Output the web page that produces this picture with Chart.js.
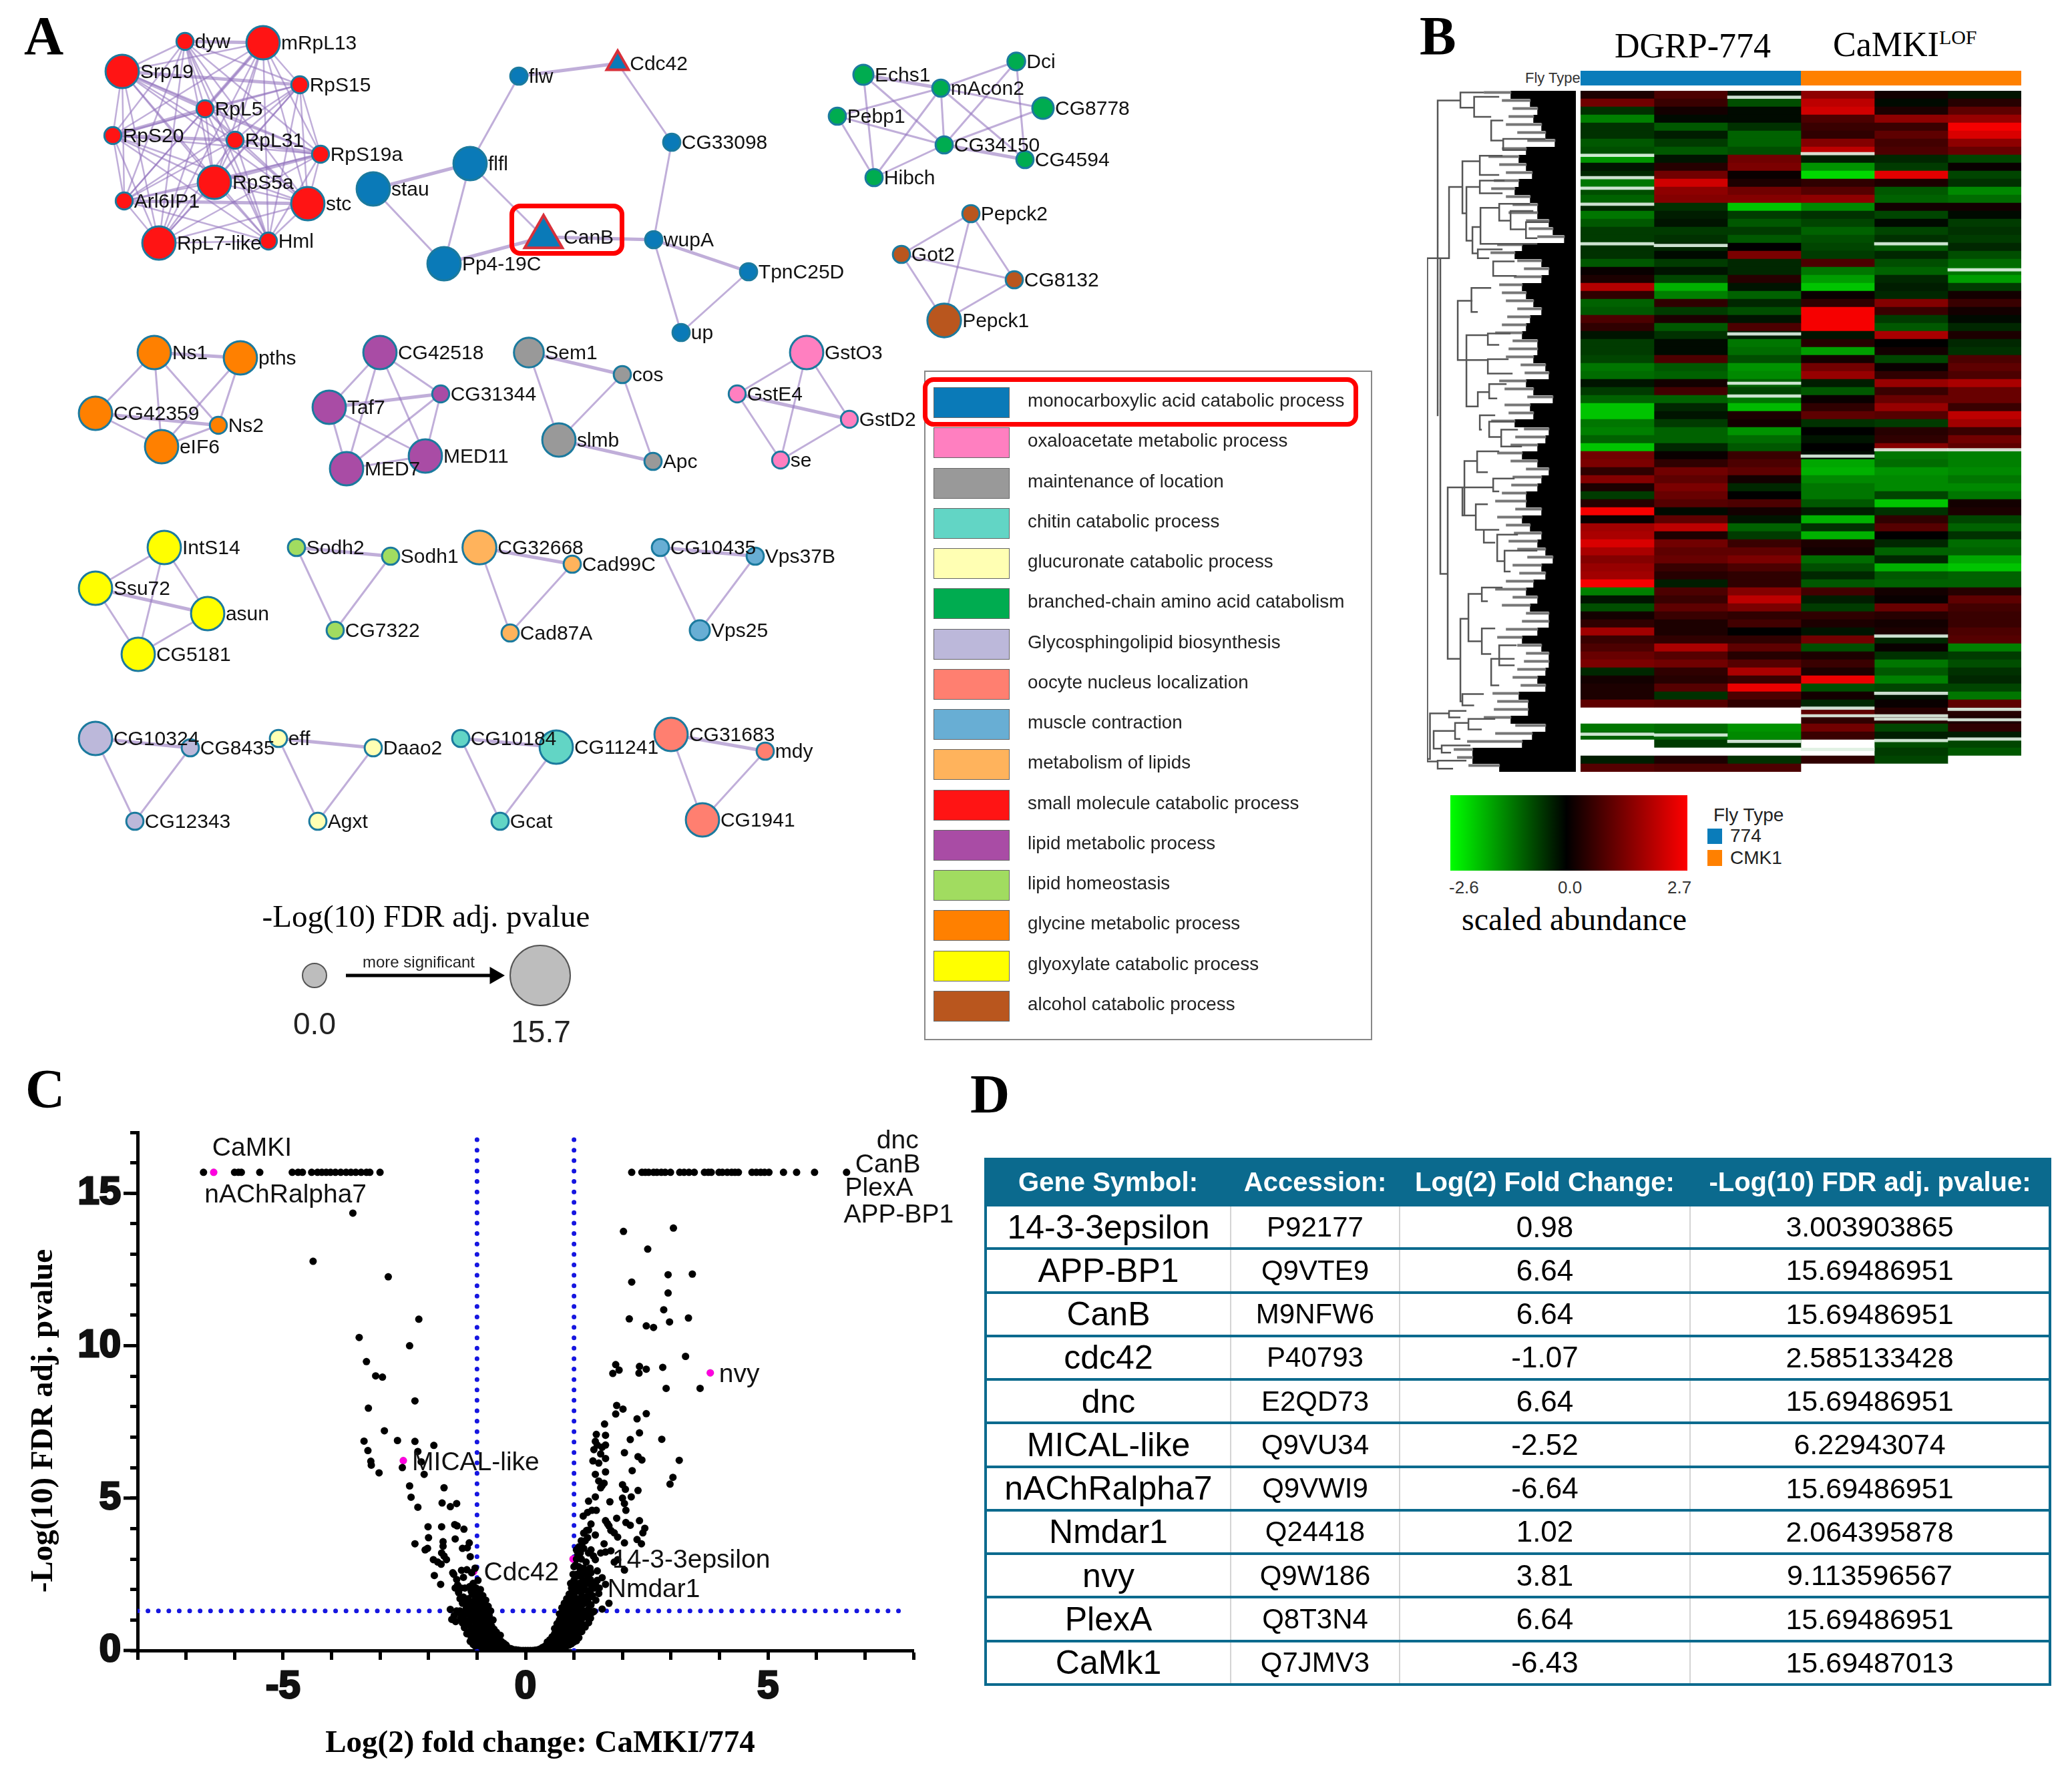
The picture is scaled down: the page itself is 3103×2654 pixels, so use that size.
<!DOCTYPE html>
<html>
<head>
<meta charset="utf-8">
<title>CaMKI proteomics figure</title>
<script src="https://cdn.jsdelivr.net/npm/chart.js@4/dist/chart.umd.js"></script>
<style>
  html, body { margin: 0; padding: 0; background: #fff; }
  #page { position: relative; width: 3103px; height: 2654px; overflow: hidden; font-family: "Liberation Sans", sans-serif; color: #000; }
  #page canvas { position: absolute; }
  .abs { position: absolute; white-space: nowrap; }
  .serif { font-family: "Liberation Serif", serif; }
  .letter { font-family: "Liberation Serif", serif; font-weight: bold; font-size: 82px; line-height: 82px; }
  .narrow { font-family: "Liberation Sans Narrow", "Liberation Sans", sans-serif; }
  #termBox { left: 1384px; top: 555px; width: 667px; height: 999px; border: 2px solid #888; }
  .swatch { position: absolute; left: 1398px; width: 112px; height: 44px; border: 1px solid #666; }
  .term { position: absolute; left: 1539px; font-size: 27.8px; line-height: 46px; color: #222; white-space: nowrap; }
  .redbox { position: absolute; border: 7px solid #f00; border-radius: 16px; box-sizing: border-box; }
  #geneTable { position: absolute; left: 1474px; top: 1734px; width: 1594px; height: 791px; border-collapse: collapse; table-layout: fixed; text-align: center; }
  #geneTable th { background: #0b6a8e; color: #fff; font-size: 40px; height: 65px; padding: 0; white-space: nowrap; border: 4px solid #0b6a8e; }
  #geneTable td { height: 60.4px; padding: 0; border-top: 4px solid #0b6a8e; border-bottom: 4px solid #0b6a8e; border-left: 2px solid #d4d4d4; border-right: 2px solid #d4d4d4; white-space: nowrap; }
  #geneTable td:first-child { font-size: 50px; border-left: 4px solid #0b6a8e; }
  #geneTable td:nth-child(2) { font-size: 42px; }
  #geneTable td:nth-child(3) { font-size: 44px; }
  #geneTable td:nth-child(4) { font-size: 43px; border-right: 4px solid #0b6a8e; }
</style>
</head>
<body>
<div id="page">
  <canvas id="networkChart" width="1760" height="1600" style="left:0;top:0"></canvas>
  <canvas id="volcanoChart" width="1480" height="1014" style="left:0;top:1640px"></canvas>
  <canvas id="treeChart" width="223" height="1020" style="left:2137px;top:136px"></canvas>
  <canvas id="heatChart" width="660" height="1020" style="left:2367px;top:136px"></canvas>

  <div class="abs letter" style="left:36px;top:13px">A</div>
  <div class="abs letter" style="left:2126px;top:13px">B</div>
  <div class="abs letter" style="left:38px;top:1590px">C</div>
  <div class="abs letter" style="left:1453px;top:1598px">D</div>

  <div class="redbox" style="left:763px;top:305px;width:172px;height:78px"></div>

  <div id="termBox" class="abs"></div>
  <div id="termList"></div>
  <div class="redbox" style="left:1382px;top:565px;width:652px;height:74px"></div>

  <div class="abs serif" style="left:2418px;top:39px;font-size:52px">DGRP-774</div>
  <div class="abs serif" style="left:2745px;top:37px;font-size:52px">CaMKI<sup style="font-size:30px;vertical-align:18px;line-height:0">LOF</sup></div>
  <div class="abs narrow" style="left:2284px;top:104px;font-size:22px;color:#333">Fly Type</div>
  <div class="abs" style="left:2367px;top:106px;width:330px;height:22px;background:#0a7cba"></div>
  <div class="abs" style="left:2697px;top:106px;width:330px;height:22px;background:#ff8000"></div>

  <div class="abs" style="left:2172px;top:1191px;width:355px;height:113px;background:linear-gradient(to right,#00ff00 0%,#000 49%,#f00 100%)"></div>
  <div class="abs narrow" style="left:2170px;top:1314px;font-size:26px;color:#333">-2.6</div>
  <div class="abs narrow" style="left:2333px;top:1314px;font-size:26px;color:#333">0.0</div>
  <div class="abs narrow" style="left:2497px;top:1314px;font-size:26px;color:#333">2.7</div>
  <div class="abs serif" style="left:2189px;top:1349px;font-size:48px">scaled abundance</div>
  <div class="abs" style="left:2566px;top:1205px;font-size:28px;color:#222">Fly Type</div>
  <div class="abs" style="left:2557px;top:1241px;width:22px;height:23px;background:#0a7cba"></div>
  <div class="abs" style="left:2591px;top:1236px;font-size:28px;color:#222">774</div>
  <div class="abs" style="left:2557px;top:1273px;width:22px;height:24px;background:#ff8000"></div>
  <div class="abs" style="left:2591px;top:1269px;font-size:28px;color:#222">CMK1</div>

  <table id="geneTable">
    <colgroup><col style="width:367px"><col style="width:253px"><col style="width:435px"><col style="width:539px"></colgroup>
    <thead><tr id="tableHead"></tr></thead>
    <tbody id="tableBody"></tbody>
  </table>
</div>

<script>
// Panel A: enrichment network, layout
const termNames = ["monocarboxylic acid catabolic process", "oxaloacetate metabolic process", "maintenance of location", "chitin catabolic process", "glucuronate catabolic process", "branched-chain amino acid catabolism", "Glycosphingolipid biosynthesis", "oocyte nucleus localization", "muscle contraction", "metabolism of lipids", "small molecule catabolic process", "lipid metabolic process", "lipid homeostasis", "glycine metabolic process", "glyoxylate catabolic process", "alcohol catabolic process"];
const termColors = ["#0a7ab8", "#ff7fc0", "#999999", "#62d5c5", "#ffffb3", "#00ac50", "#bcb8da", "#ff7f70", "#68aed4", "#ffb35c", "#ff1414", "#a94ca5", "#a1dc60", "#ff8000", "#ffff00", "#b9561e"];

const nodeNames = ["dyw", "mRpL13", "Srp19", "RpS15", "RpL5", "RpS20", "RpL31", "RpS19a", "RpS5a", "Arl6IP1", "stc", "RpL7-like", "Hml",
  "flw", "Cdc42", "CG33098", "flfl", "stau", "CanB", "wupA", "Pp4-19C", "TpnC25D", "up",
  "Echs1", "mAcon2", "Dci", "CG8778", "Pebp1", "CG34150", "CG4594", "Hibch",
  "Pepck2", "Got2", "CG8132", "Pepck1",
  "Ns1", "pths", "CG42359", "eIF6", "Ns2",
  "CG42518", "Taf7", "CG31344", "MED11", "MED7",
  "Sem1", "cos", "slmb", "Apc",
  "GstO3", "GstE4", "GstD2", "se",
  "IntS14", "Ssu72", "asun", "CG5181",
  "Sodh2", "Sodh1", "CG7322",
  "CG32668", "Cad99C", "Cad87A",
  "CG10435", "Vps37B", "Vps25",
  "CG10324", "CG8435", "CG12343",
  "eff", "Daao2", "Agxt",
  "CG10184", "CG11241", "Gcat",
  "CG31683", "mdy", "CG1941"];
const nodeX = [277, 394, 183, 449, 307, 169, 352, 480, 321, 186, 461, 238, 402,
  777, 925, 1006, 704, 559, 814, 979, 665, 1121, 1020,
  1293, 1409, 1522, 1562, 1254, 1414, 1535, 1309,
  1454, 1350, 1519, 1414,
  231, 360, 143, 242, 327,
  569, 493, 660, 637, 519,
  792, 932, 837, 978,
  1208, 1104, 1272, 1169,
  246, 143, 311, 207,
  444, 585, 502,
  718, 857, 764,
  989, 1131, 1048,
  143, 285, 202,
  417, 559, 476,
  690, 833, 749,
  1005, 1146, 1052];
const nodeY = [62, 64, 107, 127, 163, 203, 210, 231, 273, 301, 305, 364, 361,
  114, 95, 213, 245, 283, 355, 359, 395, 407, 498,
  112, 132, 92, 162, 174, 217, 239, 266,
  320, 381, 419, 480,
  528, 536, 619, 669, 637,
  528, 610, 590, 683, 702,
  528, 561, 659, 691,
  528, 590, 628, 689,
  820, 881, 919, 980,
  820, 833, 944,
  820, 845, 948,
  820, 833, 944,
  1106, 1120, 1230,
  1106, 1120, 1230,
  1106, 1119, 1230,
  1100, 1125, 1228];
const nodeSig = [0.8, 15, 15, 0.8, 0.8, 0.8, 0.8, 0.8, 15, 0.8, 15, 15, 0.8,
  1, 8, 1, 15, 15, 24, 1, 15, 1, 1,
  3.5, 1, 1.5, 4.7, 1, 1, 1, 1,
  1, 1, 1, 15.3,
  15, 15, 15, 15, 0.8,
  15, 15, 0.8, 15, 15,
  12, 1, 15, 1,
  15, 0.8, 0.8, 0.8,
  15, 15, 15, 15,
  1, 1, 1,
  15.5, 1, 1,
  1, 1, 3.5,
  15, 1, 1,
  1, 1, 1,
  1, 15, 1,
  15, 1, 15];
const nodeTerm = [10, 10, 10, 10, 10, 10, 10, 10, 10, 10, 10, 10, 10,
  0, 0, 0, 0, 0, 0, 0, 0, 0, 0,
  5, 5, 5, 5, 5, 5, 5, 5,
  15, 15, 15, 15,
  13, 13, 13, 13, 13,
  11, 11, 11, 11, 11,
  2, 2, 2, 2,
  1, 1, 1, 1,
  14, 14, 14, 14,
  12, 12, 12,
  9, 9, 9,
  8, 8, 8,
  6, 6, 6,
  4, 4, 4,
  3, 3, 3,
  7, 7, 7];
const triangleNodes = ["Cdc42", "CanB"];

const ribosomeCluster = nodeNames.slice(0, 13);
const plainEdges = [["flw", "flfl"], ["Cdc42", "CG33098"], ["CG33098", "wupA"], ["flfl", "Pp4-19C"], ["flfl", "CanB"], ["stau", "Pp4-19C"], ["wupA", "up"], ["TpnC25D", "up"],
  ["Echs1", "CG34150"], ["Echs1", "Hibch"], ["Pebp1", "mAcon2"], ["Pebp1", "CG34150"], ["Pebp1", "Hibch"], ["mAcon2", "Dci"], ["mAcon2", "CG8778"], ["mAcon2", "CG34150"], ["mAcon2", "CG4594"], ["mAcon2", "Hibch"], ["Dci", "CG34150"], ["Dci", "CG4594"], ["CG8778", "CG34150"], ["CG34150", "Hibch"],
  ["Pepck2", "Got2"], ["Pepck2", "Pepck1"], ["Pepck2", "CG8132"], ["Got2", "CG8132"], ["Got2", "Pepck1"], ["CG8132", "Pepck1"],
  ["Ns1", "CG42359"], ["Ns1", "Ns2"], ["Ns1", "eIF6"], ["pths", "eIF6"], ["pths", "Ns2"], ["CG42359", "eIF6"], ["eIF6", "Ns2"],
  ["CG42518", "Taf7"], ["CG42518", "CG31344"], ["CG42518", "MED11"], ["CG42518", "MED7"], ["Taf7", "MED11"], ["Taf7", "MED7"], ["CG31344", "MED11"], ["CG31344", "MED7"], ["MED11", "MED7"],
  ["Sem1", "slmb"], ["cos", "slmb"], ["cos", "Apc"],
  ["GstO3", "GstE4"], ["GstO3", "GstD2"], ["GstO3", "se"], ["GstE4", "se"], ["GstD2", "se"],
  ["IntS14", "Ssu72"], ["IntS14", "asun"], ["IntS14", "CG5181"], ["Ssu72", "CG5181"], ["asun", "CG5181"],
  ["Sodh2", "CG7322"], ["Sodh1", "CG7322"], ["CG32668", "Cad87A"], ["Cad99C", "Cad87A"], ["CG10435", "Vps25"], ["Vps37B", "Vps25"],
  ["CG10324", "CG12343"], ["CG8435", "CG12343"], ["eff", "Agxt"], ["Daao2", "Agxt"], ["CG10184", "Gcat"], ["CG11241", "Gcat"], ["CG31683", "CG1941"], ["mdy", "CG1941"]];
const heavyEdges = [["flw", "Cdc42"], ["stau", "flfl"], ["Pp4-19C", "CanB"], ["CanB", "wupA"], ["wupA", "TpnC25D"], ["Echs1", "mAcon2"], ["CG34150", "CG4594"], ["Ns1", "pths"], ["CG42359", "Ns2"], ["Taf7", "CG31344"], ["Sem1", "cos"], ["slmb", "Apc"], ["GstE4", "GstD2"], ["Ssu72", "asun"], ["Sodh2", "Sodh1"], ["CG32668", "Cad99C"], ["CG10435", "Vps37B"], ["CG10324", "CG8435"], ["eff", "Daao2"], ["CG10184", "CG11241"], ["CG31683", "mdy"],
  ["RpL5", "RpS20"], ["Srp19", "RpL5"], ["RpS5a", "RpS19a"], ["dyw", "mRpL13"], ["Srp19", "RpS15"], ["RpL31", "RpS19a"], ["RpS20", "RpL31"], ["Arl6IP1", "stc"], ["mRpL13", "RpL5"]];

const sizeLegendX = [471, 809];
const sizeLegendY = [1461, 1461];
const sizeLegendSig = [0, 15.7];
const arrowX = [518, 741];
const arrowY = [1461, 1461];

// Panel B: heatmap, one value per row band (null = no abundance, drawn white)
const rowCount = 85;
const columnNames = ["774-1", "774-2", "774-3", "CMK1-1", "CMK1-2", "CMK1-3"];
const col1 = [0.3, 1.2, -0.5, -1.3, -0.5, -0.5, -0.9, -0.8, -1.5, -0.2, -0.4, -1.2, -0.8, -1.0, -0.4, -1.2, -0.9, -0.6, -0.6, -0.5, -0.5, -0.9, 0.1, 0.3, 1.9, 0.5, -1.0, -0.9, 0.8,
  0.5, -0.2, -0.6, -0.6, -0.7, -1.2, -1.1, -0.2, -0.6, -1.0, -2.0, -2.0, -1.2, -1.3, -1.0, -2.0, 1.2, 1.3, 0.5, 1.4, 0.3, -0.6, 0.4, 2.6, 0.1, 1.7, 1.8, 2.3,
  1.8, 1.4, 1.6, 1.7, 2.6, -1.3, -0.2, -0.8, 0.2, 0.5, 1.7, 0.6, 0.8, 1.1, 1.3, -0.4, 0.2, 0.3, 0.3, 1.0, null, null, -1.2, -1.0, null, null, -0.3, 0.9];
const col2 = [0.8, 0.6, 0.2, -0.1, -0.9, -0.3, -0.6, -0.9, -0.2, 0.4, 1.2, 2.2, 1.5, 1.4, -0.5, -0.3, -0.2, -0.6, -0.5, -0.4, -0.1, -0.6, -0.2, -0.7, -1.8, -1.3, 0.5, -0.6, 0.3,
  -0.9, -0.5, -0.1, -0.1, 0.8, -0.9, -1.0, 0.2, 0.7, -1.0, -0.4, -0.2, -0.6, -1.0, -1.0, -0.4, 0.1, 0.5, 1.2, 1.0, 1.3, 1.1, 0.9, -0.1, 1.0, 2.0, 0.3, 1.2,
  1.0, 1.1, 0.6, 0.4, -0.3, 0.8, 0.6, 1.0, 0.6, 0.3, 0.3, 0.5, 1.8, 0.9, 1.2, 0.5, 0.4, 0.9, -0.5, 0.9, null, null, -1.1, -1.0, -0.6, null, 0.3, 0.8];
const col3 = [-0.2, -0.8, -0.1, -0.1, -0.5, -1.0, -1.0, -0.8, 1.2, 1.3, 0.1, 0.3, 1.2, 1.4, -2.0, -0.6, -0.9, -0.6, -0.9, 0.0, 1.3, -0.4, -0.4, 0.4, -0.2, -1.0, -0.4, -0.8, -0.2,
  0.8, -0.3, -1.2, -1.1, -0.8, -1.5, -1.4, -1.0, -0.7, -1.2, -1.9, 0.3, 0.2, -1.5, -1.1, -0.9, 0.6, 0.8, 1.0, 0.2, -0.4, 0.0, 0.8, 0.2, -0.2, -1.0, -0.6, 0.6,
  1.0, 1.3, 0.8, 0.5, 0.5, 1.4, 2.0, 1.3, 0.5, 0.7, 0.0, 0.5, 1.0, 0.4, 0.9, 1.8, 0.6, 2.5, 0.8, 0.5, null, null, -1.5, -1.4, -0.6, null, -0.5, 0.8];
const col4 = [1.5, 2.0, 2.2, 0.8, 0.6, 0.5, 1.4, 2.0, -0.3, -1.5, -2.2, 0.5, 0.9, 1.5, -1.4, -0.5, -0.7, -1.0, -0.8, -0.7, -0.6, 0.8, -1.2, -1.6, -2.0, 0.1, 0.5, 2.6, 2.6,
  2.6, -0.2, 0.4, -1.6, 0.2, 1.2, 1.6, -0.3, -0.9, 0.1, 0.5, 1.0, -0.5, 0.0, -0.2, 0.0, -0.1, -1.7, -1.8, -1.4, -1.2, -1.2, -0.9, -0.3, -1.8, -0.5, -1.8, 0.3,
  0.2, -1.1, -0.8, -0.4, -0.9, 0.7, -0.3, -0.6, 0.5, 0.3, -0.2, 1.2, -0.8, 0.3, 0.6, 0.3, 2.5, -0.8, 0.2, -0.4, 1.0, 0.5, 1.2, 0.6, null, null, 0.5, null];
const col5 = [0.2, -0.1, 0.3, 1.5, 0.6, 1.0, 0.7, 0.8, -0.4, -0.6, 2.4, 0.3, -0.9, -1.0, 0.2, -0.7, -0.1, -0.7, -0.5, -0.9, -0.4, -0.8, -1.0, -0.4, -0.3, -0.4, 1.4, 0.6, -0.6,
  -0.9, 1.8, 0.0, 0.2, -0.7, 0.1, 0.5, 1.6, 0.6, 1.1, 1.6, 0.9, -0.6, 0.4, 0.5, 1.4, -1.2, -1.1, -1.5, -1.4, -1.4, -0.7, -2.0, -0.5, 0.5, 0.9, 0.0, -0.4,
  -1.0, -0.4, -1.8, -0.9, -1.0, 0.2, 0.1, 1.1, 0.4, 0.2, 0.3, -0.4, 0.1, -0.5, -1.2, -0.9, -1.3, -0.7, -0.2, 0.1, 0.4, 0.4, -0.7, -0.3, -0.8, -0.6, -0.7, null];
const col6 = [-0.2, 0.4, 1.0, 1.6, 2.6, 2.3, 1.5, 1.1, -0.7, 0.1, -0.7, -0.5, -1.4, -1.1, 0.2, -0.1, -0.6, -0.5, -0.6, -0.4, -0.8, -1.1, -1.2, -1.6, -0.6, 0.2, 0.6, 0.2, -0.1,
  -0.4, 0.3, -0.4, -0.5, 0.8, 1.0, 0.8, 1.8, 1.1, 1.1, 0.6, 2.0, 1.7, 0.6, 1.2, 1.0, -1.3, -1.3, -1.4, -1.2, -1.4, -1.2, 0.2, 0.3, -0.7, -1.0, -0.5, -1.1,
  -1.0, -1.7, -2.0, -1.0, -1.0, 0.4, 1.0, 0.7, 0.6, 0.6, 0.8, 0.9, -1.3, -0.6, -0.8, -0.5, -0.4, -0.7, -1.2, 1.0, 0.4, 0.3, 0.5, -0.3, -0.7, -0.9, null, null];
const columns = [col1, col2, col3, col4, col5, col6];
// thin pale lines: rows that are missing for one replicate
const missingCol = [0, 0, 0, 0, 0, 1, 2, 2, 2, 2, 3, 3, 3, 3, 4, 4, 4, 4, 4, 4, 5, 5, 5, 5, 0, 1, 2, 3, 4, 5];
const missingRow = [8.05, 10.85, 12.15, 14.15, 19.1, 19.3, 0.8, 30.35, 36.5, 38.1, 7.85, 45.6, 77.05, 78.0, 19.1, 44.8, 68.05, 75.2, 78.0, 78.4, 22.35, 44.8, 77.2, 78.5, 80.3, 80.4, 81.2, 82.2, 81.1, 80.9];

const fanEdge = [125, 154, 165, 159, 171, 177, 191, 148, 137, 148, 157, 137, 131, 154, 165, 165, 182, 188, 205, 142, 131, 171, 182, 171, 142, 148, 159, 171, 154,
  148, 142, 165, 165, 159, 177, 182, 148, 159, 188, 154, 159, 131, 182, 177, 165, 142, 165, 182, 171, 165, 148, 148, 171, 142, 154, 171, 165,
  177, 188, 171, 177, 159, 148, 165, 154, 182, 182, 165, 142, 171, 182, 182, 177, 165, 177, 137, 151, 151, 125, 177, 157, 142, 68, 68, 108];
// grey twigs reaching left from the fan, one at the top of each row
const fanTwig = [85, 112, 128, 122, 118, 135, 150, 112, 92, 108, 118, 100, 96, 118, 128, 122, 148, 152, 165, 105, 95, 135, 145, 130, 108, 112, 118, 135, 120,
  112, 102, 128, 122, 118, 140, 146, 108, 116, 150, 116, 122, 96, 145, 132, 125, 105, 125, 148, 128, 126, 112, 102, 132, 105, 118, 130, 122,
  135, 150, 128, 138, 118, 102, 128, 112, 148, 142, 118, 105, 135, 148, 145, 135, 128, 140, 98, 105, 100, 85, 132, 102, 60, 40, 45, 62];
// x of the vertical, first row, last row, x reached by the top and bottom arms
const treeClades = [
  [0.5, 20.9, 83.7, 19, 16], [16, 1.2, 40.6, 50, 16], [20, 20.9, 60.3, 33, 30], [33, 12, 20.9, 53, 19], [53, 8.8, 15.3, 79, 59],
  [59, 12, 18.7, 79, 68], [68, 17, 20.3, 80, 76], [80, 14.6, 19.1, 108, 165], [50, 0.2, 2.1, 85, 70.5], [70.5, 0.75, 3.25, 108, 96],
  [96, 3.7, 6.2, 114, 114], [114, 6, 7.4, 177, 148], [79, 8.1, 10.5, 113, 108], [79, 11.2, 12.8, 116, 113], [108, 14.1, 16.2, 154, 125],
  [125, 15, 17.3, 159, 148], [148, 16.4, 18.4, 182, 165], [76, 19.8, 20.9, 113, 93], [99, 21.3, 23.1, 131, 134], [66.5, 24.6, 27.6, 96, 76],
  [46, 26.2, 33.6, 68, 91], [59, 30.5, 39.4, 91, 76], [91, 30.3, 31.7, 125, 108], [91, 33.5, 35.3, 122, 128], [76, 37.6, 39.4, 93, 59],
  [93, 36.6, 38.4, 119, 105], [79, 40.5, 42.3, 102, 82], [93, 41.3, 43.2, 131, 111], [111, 42.3, 44.4, 136, 142], [56, 46.2, 53, 75, 73],
  [75, 45, 47.6, 108, 91], [31, 49.5, 70.9, 53, 50], [53, 49.5, 53, 99, 56], [73, 51.6, 54.8, 91, 85], [99, 48.4, 50, 131, 108],
  [85, 54.8, 56.4, 108, 102], [105, 55.4, 58.7, 136, 116], [116, 57.4, 60, 165, 125], [50, 65.9, 76.2, 62, 53], [62, 62.8, 68.7, 82, 82],
  [82, 62, 63.7, 113, 91], [82, 67.1, 70.3, 102, 96], [96, 70.9, 74.2, 131, 108], [108, 69.2, 71.7, 134, 131], [53, 75.3, 76.7, 85, 70.5],
  [4.5, 77.7, 83.4, 33, 1.6], [33, 77.4, 78.2, 59, 50], [10, 79.9, 82.1, 42, 22], [42, 78.9, 80.9, 62, 50], [62, 78.4, 79.7, 102, 82],
  [22, 81.7, 82.6, 65, 36], [16, 83.6, 84.6, 59, 39]
];

// Panel C: volcano plot
const saturatedY = 15.69;
const saturatedLeftX = [-6.64, -6.0, -5.92, -5.86, -5.48, -4.81, -4.69, -4.6, -4.41, -4.29, -4.2, -4.11, -4.02, -3.92, -3.81, -3.7, -3.6, -3.5, -3.39, -3.28, -3.21, -3.0];
const saturatedRightX = [2.19, 2.4, 2.47, 2.54, 2.64, 2.71, 2.8, 2.88, 2.99, 3.18, 3.27, 3.37, 3.48, 3.69, 3.77, 3.83, 3.99, 4.06, 4.16, 4.25, 4.32, 4.39, 4.67, 4.76, 4.85, 4.93, 5.02, 5.32, 5.59, 5.96, 6.62];
const downPoints = [[-3.56, 14.35], [-4.38, 12.77], [-2.83, 12.26], [-2.2, 10.87], [-3.43, 10.27], [-2.39, 10.0], [-3.28, 9.48], [-3.09, 9.01], [-2.95, 8.97], [-2.28, 8.19], [-3.24, 7.95], [-2.91, 7.21], [-3.33, 6.87], [-2.64, 6.89], [-2.28, 6.86], [-1.89, 6.73], [-3.25, 6.56], [-2.22, 6.53], [-3.19, 6.21], [-3.18, 6.08], [-2.54, 6.0], [-2.15, 6.19], [-3.02, 5.83], [-2.09, 5.78], [-2.39, 5.4], [-1.68, 5.34], [-2.36, 5.03], [-1.72, 4.84], [-1.55, 4.72], [-1.42, 4.82], [-2.22, 4.7], [-2.01, 4.06], [-1.73, 4.06], [-1.46, 4.13], [-1.41, 4.09], [-1.27, 3.98], [-2.0, 3.7], [-1.7, 3.57], [-1.45, 3.66], [-2.28, 3.5], [-1.16, 3.53], [-1.7, 3.42], [-2.02, 3.35], [-2.07, 3.3], [-1.3, 3.35], [-1.2, 3.37], [-1.73, 3.2], [-1.68, 3.1], [-1.9, 2.98], [-1.81, 2.9], [-1.74, 2.83], [-1.63, 2.98], [-1.14, 3.08], [-1.88, 2.46], [-1.75, 2.17], [-1.48, 2.5], [-1.42, 2.33], [-1.32, 2.63], [-1.21, 2.65], [-1.11, 2.55], [-1.04, 2.7],
  [-1.5, 2.55], [-1.45, 2.05], [-1.4, 2.15], [-1.38, 1.9], [-1.35, 1.7], [-1.33, 2.05], [-1.28, 2.4], [-1.25, 2.05], [-1.42, 1.3], [-1.55, 1.35], [-1.52, 1.02], [-1.47, 1.15], [-1.44, 0.95], [-1.38, 1.25], [-1.35, 1.3], [-1.3, 1.55], [-1.28, 1.75], [-1.22, 1.4], [-1.2, 0.9], [-1.2, 1.2], [-1.18, 1.7], [-1.18, 0.6], [-1.15, 2.1], [-1.15, 1.45], [-1.15, 1.0], [-1.12, 0.45], [-1.12, 0.75], [-1.1, 1.25], [-1.1, 1.6], [-1.1, 1.85], [-1.08, 2.2], [-1.05, 0.3], [-1.05, 0.6], [-1.05, 0.95], [-1.05, 1.4], [-1.03, 1.7], [-1.02, 2.05], [-1.0, 0.2], [-1.0, 0.5], [-1.0, 0.8], [-1.0, 1.15], [-1.0, 1.5], [-1.0, 1.85], [-0.98, 2.3], [-0.95, 0.15], [-0.95, 0.4], [-0.95, 0.7], [-0.95, 1.0], [-0.95, 1.3], [-0.95, 1.65], [-0.93, 2.0], [-0.9, 0.12], [-0.9, 0.35], [-0.9, 0.6], [-0.9, 0.9], [-0.9, 1.2], [-0.9, 1.5], [-0.88, 1.8], [-0.85, 0.1], [-0.85, 0.3], [-0.85, 0.55], [-0.85, 0.85], [-0.85, 1.1], [-0.85, 1.4], [-0.82, 1.65], [-0.8, 0.08], [-0.8, 0.25], [-0.8, 0.5], [-0.8, 0.75], [-0.8, 1.0], [-0.8, 1.25], [-0.77, 1.45], [-0.75, 0.05], [-0.75, 0.2], [-0.75, 0.42], [-0.75, 0.65], [-0.75, 0.9], [-0.75, 1.15], [-0.72, 1.3], [-0.7, 0.04], [-0.7, 0.17], [-0.7, 0.35], [-0.7, 0.55], [-0.7, 0.8], [-0.67, 1.0], [-0.65, 0.03], [-0.65, 0.14], [-0.65, 0.3], [-0.65, 0.5], [-0.65, 0.7], [-0.6, 0.02], [-0.6, 0.12], [-0.6, 0.25], [-0.6, 0.4], [-0.6, 0.6], [-0.55, 0.02], [-0.55, 0.1], [-0.55, 0.2], [-0.55, 0.35], [-0.52, 0.5], [-0.5, 0.01], [-0.5, 0.08], [-0.5, 0.17], [-0.5, 0.3], [-0.45, 0.01], [-0.45, 0.06], [-0.45, 0.13], [-0.45, 0.24], [-0.4, 0.01], [-0.4, 0.05], [-0.4, 0.1], [-0.4, 0.18], [-0.35, 0.01], [-0.35, 0.04], [-0.35, 0.08], [-0.3, 0.01], [-0.3, 0.03], [-0.3, 0.06], [-0.25, 0.01], [-0.25, 0.03], [-0.2, 0.0], [-0.2, 0.02], [-0.15, 0.0], [-0.15, 0.01], [-0.1, 0.0], [-0.05, 0.0], [0.0, 0.0], [0.05, 0.0], [0.1, 0.0],
  [-1.34, 1.05], [-1.3, 0.9], [-1.28, 1.15], [-1.26, 0.75], [-1.25, 1.0], [-1.24, 1.3], [-1.23, 1.6], [-1.21, 0.55], [-1.17, 0.85], [-1.16, 1.3], [-1.16, 1.6], [-1.14, 0.3], [-1.13, 1.15], [-1.12, 1.95], [-1.1, 0.55], [-1.09, 1.05], [-1.08, 0.2], [-1.07, 1.55], [-1.07, 1.9], [-1.04, 0.15], [-1.03, 0.45], [-1.03, 0.8], [-1.03, 1.2], [-0.98, 0.3], [-0.98, 0.65], [-0.97, 0.88], [-0.97, 1.18], [-0.97, 1.45], [-0.96, 1.8], [-0.92, 0.2], [-0.92, 0.5], [-0.92, 0.78], [-0.92, 1.05], [-0.92, 1.4], [-0.92, 1.7], [-0.87, 0.2], [-0.87, 0.45], [-0.87, 0.7], [-0.87, 1.0], [-0.87, 1.27], [-0.87, 1.55], [-0.83, 0.18], [-0.83, 0.4], [-0.83, 0.65], [-0.83, 0.95], [-0.83, 1.2], [-0.83, 1.5], [-0.78, 0.15], [-0.78, 0.36], [-0.78, 0.6], [-0.78, 0.85], [-0.78, 1.1], [-0.73, 0.12], [-0.73, 0.3], [-0.73, 0.5], [-0.73, 0.75], [-0.73, 1.0], [-0.68, 0.1], [-0.68, 0.25], [-0.68, 0.45], [-0.68, 0.65], [-0.62, 0.08], [-0.62, 0.2], [-0.62, 0.35], [-0.62, 0.5], [-0.57, 0.06], [-0.57, 0.15], [-0.57, 0.28], [-0.57, 0.42]];
const upPoints = [[3.05, 13.86], [2.02, 13.75], [2.52, 13.17], [3.44, 12.35], [2.94, 12.33], [2.19, 12.09], [2.94, 11.73], [2.85, 11.18], [2.14, 10.88], [3.36, 10.91], [2.97, 10.78], [2.49, 10.65], [2.64, 10.6], [3.3, 9.65], [1.86, 9.38], [1.93, 9.2], [1.8, 9.09], [2.35, 9.32], [2.49, 9.23], [2.34, 9.1], [2.83, 9.29], [2.9, 8.6], [3.6, 8.6], [1.88, 8.04], [2.01, 7.92], [1.86, 7.76], [2.49, 7.77], [2.3, 7.6], [1.63, 7.43], [2.81, 6.93], [2.35, 7.14], [2.16, 6.92], [2.04, 6.49], [2.32, 6.36], [2.4, 6.25], [3.17, 6.24], [2.2, 5.9], [3.04, 5.68], [2.98, 5.46],
  [1.46, 7.09], [1.65, 7.06], [1.44, 6.86], [1.41, 6.59], [1.48, 6.74], [1.58, 6.67], [1.65, 6.74], [1.55, 6.45], [1.39, 6.22], [1.51, 6.15], [1.65, 6.3], [1.44, 5.78], [1.51, 5.56], [1.65, 5.86], [1.55, 5.34], [1.62, 5.49], [1.58, 5.41], [1.74, 4.88], [1.44, 5.04], [1.3, 4.9], [1.37, 4.6], [1.46, 4.6], [1.19, 4.41], [1.28, 4.53], [2.0, 5.44], [2.06, 5.29], [2.32, 5.25], [2.18, 5.04], [2.0, 5.0], [2.04, 4.82], [2.07, 4.6], [1.88, 4.34], [1.65, 4.26], [1.69, 4.16], [1.72, 4.09], [2.07, 4.2], [2.16, 4.11], [2.35, 4.26], [2.46, 4.01], [2.42, 3.86], [2.3, 3.64], [2.39, 3.5], [2.04, 3.53], [1.83, 3.86], [1.9, 3.72], [1.76, 3.94], [1.26, 3.94], [1.44, 3.79], [1.62, 3.5], [1.44, 2.98], [1.55, 3.2], [1.65, 3.23], [1.76, 3.27], [1.83, 2.9], [1.9, 2.98], [2.04, 2.64], [1.48, 2.61], [1.58, 2.39], [1.65, 2.17], [1.44, 2.17], [1.34, 2.32], [1.51, 1.87], [1.72, 1.55], [1.58, 1.36], [1.41, 1.28], [1.34, 1.06], [1.23, 0.77], [1.3, 0.91], [1.16, 0.62],
  [0.15, 0.0], [0.2, 0.01], [0.25, 0.02], [0.3, 0.02], [0.3, 0.05], [0.35, 0.02], [0.35, 0.06], [0.35, 0.1], [0.4, 0.02], [0.4, 0.07], [0.4, 0.14], [0.45, 0.03], [0.45, 0.1], [0.45, 0.18], [0.45, 0.28], [0.5, 0.03], [0.5, 0.12], [0.5, 0.22], [0.5, 0.35], [0.55, 0.04], [0.55, 0.15], [0.55, 0.28], [0.55, 0.45], [0.6, 0.05], [0.6, 0.2], [0.6, 0.35], [0.6, 0.55], [0.6, 0.72], [0.65, 0.06], [0.65, 0.22], [0.65, 0.42], [0.65, 0.65], [0.65, 0.88], [0.7, 0.07], [0.7, 0.28], [0.7, 0.5], [0.7, 0.75], [0.7, 1.0], [0.7, 1.2], [0.75, 0.1], [0.75, 0.32], [0.75, 0.58], [0.75, 0.85], [0.75, 1.12], [0.75, 1.4], [0.8, 0.12], [0.8, 0.4], [0.8, 0.66], [0.8, 0.95], [0.8, 1.25], [0.8, 1.55], [0.85, 0.15], [0.85, 0.45], [0.85, 0.75], [0.85, 1.05], [0.85, 1.35], [0.85, 1.7], [0.9, 0.18], [0.9, 0.52], [0.9, 0.85], [0.9, 1.18], [0.9, 1.5], [0.9, 1.85], [0.95, 0.22], [0.95, 0.6], [0.95, 0.95], [0.95, 1.3], [0.95, 1.65], [0.95, 2.05], [1.0, 0.28], [1.0, 0.65], [1.0, 1.05], [1.0, 1.42], [1.0, 1.8], [1.0, 2.3], [1.0, 2.75], [1.05, 0.32], [1.05, 0.75], [1.05, 1.15], [1.05, 1.55], [1.05, 2.0], [1.05, 2.5], [1.05, 3.0], [1.05, 3.3], [1.1, 0.42], [1.1, 0.85], [1.1, 1.25], [1.1, 1.7], [1.1, 2.2], [1.1, 2.75], [1.1, 3.4], [1.15, 1.0], [1.15, 1.45], [1.15, 1.9], [1.15, 2.45], [1.15, 3.0], [1.15, 3.6], [1.2, 1.1], [1.2, 1.55], [1.2, 2.1], [1.2, 2.7], [1.2, 3.35], [1.2, 3.85], [1.25, 1.3], [1.25, 1.75], [1.25, 2.3], [1.25, 2.9], [1.3, 1.35], [1.3, 1.9], [1.3, 2.2], [1.3, 3.2], [1.3, 3.95], [1.35, 1.5], [1.35, 2.0], [1.35, 2.55], [1.35, 3.3], [1.35, 4.15],
  [0.58, 0.1], [0.58, 0.25], [0.58, 0.4], [0.63, 0.12], [0.63, 0.3], [0.63, 0.48], [0.63, 0.7], [0.68, 0.15], [0.68, 0.35], [0.68, 0.6], [0.68, 0.85], [0.73, 0.2], [0.73, 0.4], [0.73, 0.65], [0.73, 0.9], [0.73, 1.1], [0.78, 0.22], [0.78, 0.5], [0.78, 0.75], [0.78, 1.05], [0.78, 1.3], [0.83, 0.28], [0.83, 0.55], [0.83, 0.85], [0.83, 1.15], [0.83, 1.45], [0.88, 0.32], [0.88, 0.65], [0.88, 0.95], [0.88, 1.25], [0.88, 1.6], [0.93, 0.4], [0.93, 0.75], [0.93, 1.1], [0.93, 1.42], [0.93, 1.75], [0.93, 2.2], [0.98, 0.45], [0.98, 0.85], [0.98, 1.2], [0.98, 1.55], [0.98, 1.95], [0.98, 2.5], [1.03, 0.5], [1.03, 0.9], [1.03, 1.3], [1.03, 1.7], [1.03, 2.2], [1.03, 2.8], [1.08, 0.6], [1.08, 1.05], [1.08, 1.45], [1.08, 1.95], [1.08, 2.45], [1.08, 3.15], [1.13, 0.75], [1.13, 1.2], [1.13, 1.65], [1.13, 2.1], [1.13, 2.6], [1.13, 3.2], [1.18, 0.85], [1.18, 1.3], [1.18, 1.75], [1.18, 2.3], [1.18, 3.55], [1.23, 1.1], [1.23, 1.55], [1.23, 2.0], [1.23, 2.55], [1.23, 3.6], [1.28, 1.15], [1.28, 1.6], [1.28, 2.45], [1.28, 3.7], [1.33, 1.25], [1.33, 1.75], [1.33, 2.7], [1.38, 1.25], [1.38, 1.8], [1.38, 2.2], [1.4, 3.1], [1.42, 2.05], [1.45, 1.65], [1.48, 2.3], [1.52, 2.05]];
const namedX = [-6.43, -2.52, 3.81, 0.98, 1.02, -1.07];
const namedY = [15.69, 6.23, 9.11, 3.0, 2.06, 2.59];
const geneLabels = ["CaMKI", "nAChRalpha7", "MICAL-like", "Cdc42", "dnc", "CanB", "PlexA", "APP-BP1", "nvy", "14-3-3epsilon", "Nmdar1"];
const geneLabelX = [-6.46, -6.62, -2.34, -0.86, 7.24, 6.8, 6.59, 6.56, 3.99, 1.79, 1.69];
const geneLabelY = [16.53, 15.0, 6.22, 2.61, 16.77, 15.99, 15.22, 14.34, 9.1, 3.01, 2.05];
const foldCutoffs = [-1, 1];
const fdrCutoff = 1.3;

// Panel D: table
const tableHeaders = ["Gene Symbol:", "Accession:", "Log(2) Fold Change:", "-Log(10) FDR adj. pvalue:"];
const geneSymbols = ["14-3-3epsilon", "APP-BP1", "CanB", "cdc42", "dnc", "MICAL-like", "nAChRalpha7", "Nmdar1", "nvy", "PlexA", "CaMk1"];
const accessions = ["P92177", "Q9VTE9", "M9NFW6", "P40793", "E2QD73", "Q9VU34", "Q9VWI9", "Q24418", "Q9W186", "Q8T3N4", "Q7JMV3"];
const foldChanges = ["0.98", "6.64", "6.64", "-1.07", "6.64", "-2.52", "-6.64", "1.02", "3.81", "6.64", "-6.43"];
const fdrValues = ["3.003903865", "15.69486951", "15.69486951", "2.585133428", "15.69486951", "6.22943074", "15.69486951", "2.064395878", "9.113596567", "15.69486951", "15.69487013"];

Chart.defaults.font.family = '"Liberation Sans", sans-serif';
Chart.defaults.animation = false;
Chart.defaults.responsive = false;
Chart.defaults.events = [];
Chart.defaults.layout.autoPadding = false;
Chart.defaults.plugins.legend.display = false;
Chart.defaults.plugins.tooltip.enabled = false;

function nodeRadius(sig) {
  return 12 + sig * 0.86;
}

function nodePoint(name) {
  const i = nodeNames.indexOf(name);
  return { x: nodeX[i], y: nodeY[i] };
}

function edgeDataset(pair, width) {
  return {
    type: "line",
    data: [nodePoint(pair[0]), nodePoint(pair[1])],
    borderColor: "rgba(146,116,190,0.58)",
    borderWidth: width,
    pointRadius: 0,
    order: 3
  };
}

function heatColor(v) {
  if (v === null) return "#ffffff";
  if (v >= 0) return `rgb(${Math.round(Math.min(v / 2.7, 1) * 255)},0,0)`;
  return `rgb(0,${Math.round(Math.min(-v / 2.6, 1) * 255)},0)`;
}

// draws a list of {text,x,y,font,...} on top of the marks, x/y already in canvas pixels
const textLabels = {
  id: "textLabels",
  afterDatasetsDraw(chart, args, opts) {
    const ctx = chart.ctx;
    opts.items(chart).forEach(t => {
      ctx.save();
      ctx.translate(t.x, t.y);
      if (t.rotate) ctx.rotate(t.rotate);
      ctx.font = t.font;
      ctx.fillStyle = t.color || "#000";
      ctx.textAlign = t.align || "left";
      ctx.textBaseline = "middle";
      ctx.fillText(t.text, 0, 0);
      ctx.restore();
    });
  }
};

function renderNetwork() {
  const edges = [];
  ribosomeCluster.forEach((a, i) => {
    ribosomeCluster.slice(i + 1).forEach(b => {
      const heavy = heavyEdges.some(e => (e[0] === a && e[1] === b) || (e[0] === b && e[1] === a));
      if (!heavy) edges.push(edgeDataset([a, b], 2.5));
    });
  });
  plainEdges.forEach(e => edges.push(edgeDataset(e, 3)));
  heavyEdges.forEach(e => edges.push(edgeDataset(e, 5)));

  new Chart(document.getElementById("networkChart"), {
    type: "scatter",
    data: {
      datasets: [
        {
          data: nodeNames.map((_, i) => ({ x: nodeX[i], y: nodeY[i] })),
          backgroundColor: nodeTerm.map(t => termColors[t]),
          borderColor: nodeNames.map(n => triangleNodes.includes(n) ? "#d8303a" : "#1b7a9e"),
          borderWidth: nodeNames.map(n => triangleNodes.includes(n) ? 4 : 3),
          pointStyle: nodeNames.map(n => triangleNodes.includes(n) ? "triangle" : "circle"),
          pointRadius: nodeSig.map(nodeRadius),
          order: 1
        },
        {
          data: sizeLegendX.map((x, i) => ({ x, y: sizeLegendY[i] })),
          backgroundColor: "#bdbdbd",
          borderColor: "#555",
          borderWidth: 2,
          pointRadius: sizeLegendSig.map(s => 18 + s * 1.72),
          order: 1
        },
        {
          type: "line",
          data: arrowX.map((x, i) => ({ x, y: arrowY[i] })),
          borderColor: "#000",
          backgroundColor: "#000",
          borderWidth: 5,
          pointStyle: "triangle",
          pointRotation: 90,
          pointRadius: [0, 10],
          order: 1
        },
        ...edges
      ]
    },
    options: {
      layout: { padding: 0 },
      scales: {
        x: { type: "linear", display: false, min: 0, max: 1760 },
        y: { type: "linear", display: false, min: 0, max: 1600, reverse: true }
      },
      plugins: {
        textLabels: {
          items: chart => {
            const sx = chart.scales.x, sy = chart.scales.y;
            const list = nodeNames.map((n, i) => {
              const r = nodeRadius(nodeSig[i]);
              return {
                text: n,
                x: sx.getPixelForValue(nodeX[i]) + (triangleNodes.includes(n) ? r * 0.86 : r) + 2,
                y: sy.getPixelForValue(nodeY[i]) + 2,
                font: '30px "Liberation Sans"',
                color: "#111"
              };
            });
            list.push({ text: "-Log(10) FDR adj. pvalue", x: 638, y: 1376, align: "center", font: '47px "Liberation Serif"' });
            list.push({ text: "more significant", x: 627, y: 1442, align: "center", font: '24px "Liberation Sans"', color: "#222" });
            list.push({ text: "0.0", x: 471, y: 1536, align: "center", font: '46px "Liberation Sans"', color: "#222" });
            list.push({ text: "15.7", x: 810, y: 1548, align: "center", font: '46px "Liberation Sans"', color: "#222" });
            return list;
          }
        }
      }
    },
    plugins: [textLabels]
  });
}

function renderTree() {
  const fan = [];
  const twigs = [];
  fanEdge.forEach((edge, r) => {
    fan.push({ x: edge, y: r + 0.5 }, { x: 222.6, y: r + 0.5 }, { x: null, y: null });
    twigs.push({ x: fanTwig[r], y: r + 0.2 }, { x: edge + 1, y: r + 0.2 }, { x: null, y: null });
  });
  const tree = [];
  treeClades.forEach(c => {
    tree.push({ x: c[3], y: c[1] }, { x: c[0], y: c[1] }, { x: c[0], y: c[2] }, { x: c[4], y: c[2] }, { x: null, y: null });
  });
  new Chart(document.getElementById("treeChart"), {
    type: "line",
    data: {
      datasets: [
        { data: fan, borderColor: "#000", borderWidth: 12, borderCapStyle: "butt", pointRadius: 0, order: 3 },
        { data: twigs, borderColor: "#777", borderWidth: 4, borderCapStyle: "butt", pointRadius: 0, order: 2 },
        { data: tree, borderColor: "#555", borderWidth: 2.5, pointRadius: 0, order: 1 }
      ]
    },
    options: {
      layout: { padding: 0 },
      scales: {
        x: { type: "linear", display: false, min: 0, max: 222.6 },
        y: { type: "linear", display: false, min: 0, max: rowCount, reverse: true }
      }
    }
  });
}

function renderHeatmap() {
  const datasets = columns.map((values, c) => ({
    label: columnNames[c],
    data: values.map((_, r) => ({ x: [c, c + 1], y: r + 0.5 })),
    backgroundColor: values.map(heatColor),
    borderWidth: 0,
    barThickness: 12,
    grouped: false,
    order: 2
  }));
  datasets.push({
    label: "missing",
    data: missingRow.map((r, i) => ({ x: [missingCol[i], missingCol[i] + 1], y: r })),
    backgroundColor: "rgba(222,240,226,0.92)",
    borderWidth: 0,
    barThickness: 4,
    grouped: false,
    order: 1
  });
  new Chart(document.getElementById("heatChart"), {
    type: "bar",
    data: { datasets },
    options: {
      indexAxis: "y",
      layout: { padding: 0 },
      scales: {
        x: { type: "linear", display: false, min: 0, max: columns.length },
        y: { type: "linear", display: false, min: 0, max: rowCount, reverse: true, offset: false }
      }
    }
  });
}

function renderVolcano() {
  const black = [
    ...saturatedLeftX.map(x => ({ x, y: saturatedY })),
    ...saturatedRightX.map(x => ({ x, y: saturatedY })),
    ...downPoints.map(p => ({ x: p[0], y: p[1] })),
    ...upPoints.map(p => ({ x: p[0], y: p[1] }))
  ];
  const cutoffLine = pts => ({
    type: "line",
    data: pts,
    borderColor: "#1616e0",
    borderWidth: 7,
    borderDash: [0.01, 15.6],
    borderCapStyle: "round",
    pointRadius: 0,
    order: 3
  });
  const majorYTicks = {
    id: "majorYTicks",
    afterDraw(chart) {
      const s = chart.scales.y, ctx = chart.ctx;
      ctx.save();
      ctx.strokeStyle = "#000";
      ctx.lineWidth = 5;
      [0, 5, 10, 15].forEach(v => {
        const y = s.getPixelForValue(v);
        ctx.beginPath();
        ctx.moveTo(chart.chartArea.left - 21, y);
        ctx.lineTo(chart.chartArea.left, y);
        ctx.stroke();
      });
      ctx.restore();
    }
  };
  new Chart(document.getElementById("volcanoChart"), {
    type: "scatter",
    data: {
      datasets: [
        { data: namedX.map((x, i) => ({ x, y: namedY[i] })), backgroundColor: "#ff00e0", pointRadius: 5.5, order: 2 },
        { data: black, backgroundColor: "#000", pointRadius: 5.5, order: 1 },
        cutoffLine([{ x: foldCutoffs[0], y: 0 }, { x: foldCutoffs[0], y: 17 }]),
        cutoffLine([{ x: foldCutoffs[1], y: 0 }, { x: foldCutoffs[1], y: 17 }]),
        cutoffLine([{ x: -8, y: fdrCutoff }, { x: 7.87, y: fdrCutoff }])
      ]
    },
    options: {
      layout: { padding: { left: 0, right: 112, top: 56, bottom: 0 } },
      scales: {
        x: {
          type: "linear", min: -8, max: 8,
          afterFit: s => { s.height = 182; },
          border: { display: true, width: 5, color: "#000" },
          grid: { drawOnChartArea: false, tickLength: 14, tickWidth: 5, tickColor: "#000" },
          ticks: {
            stepSize: 1, autoSkip: false, maxRotation: 0, padding: 6, color: "#111",
            font: { size: 58, weight: "bold" },
            textStrokeColor: "#111", textStrokeWidth: 3,
            callback: v => (v % 5 === 0 ? String(v) : "")
          }
        },
        y: {
          type: "linear", min: 0, max: 17,
          afterFit: s => { s.width = 206; },
          border: { display: true, width: 5, color: "#000" },
          grid: { drawOnChartArea: false, tickLength: 11, tickWidth: 5, tickColor: "#000" },
          ticks: {
            stepSize: 1, autoSkip: false, padding: 14, color: "#111",
            font: { size: 58, weight: "bold" },
            textStrokeColor: "#111", textStrokeWidth: 3,
            callback: v => (v % 5 === 0 ? String(v) : "")
          }
        }
      },
      plugins: {
        textLabels: {
          items: chart => {
            const list = geneLabels.map((t, i) => ({
              text: t,
              x: chart.scales.x.getPixelForValue(geneLabelX[i]),
              y: chart.scales.y.getPixelForValue(geneLabelY[i]) + 3,
              font: '39px "Liberation Sans"',
              color: "#111"
            }));
            list.push({ text: "Log(2) fold change: CaMKI/774", x: 809, y: 972, align: "center", font: 'bold 47px "Liberation Serif"' });
            list.push({ text: "-Log(10) FDR adj. pvalue", x: 66, y: 488, align: "center", rotate: -Math.PI / 2, font: 'bold 47px "Liberation Serif"' });
            return list;
          }
        }
      }
    },
    plugins: [textLabels, majorYTicks]
  });
}

function renderTermLegend() {
  const list = document.getElementById("termList");
  list.innerHTML = termNames.map((name, i) => `
    <div class="swatch" style="top:${580 + Math.round(i * 60.25)}px;background:${termColors[i]}"></div>
    <div class="term" style="top:${577 + Math.round(i * 60.25)}px">${name}</div>
  `).join("");
}

function renderTable() {
  document.getElementById("tableHead").innerHTML = tableHeaders.map(h => `<th>${h}</th>`).join("");
  document.getElementById("tableBody").innerHTML = geneSymbols.map((g, i) => `
    <tr><td>${g}</td><td>${accessions[i]}</td><td>${foldChanges[i]}</td><td>${fdrValues[i]}</td></tr>
  `).join("");
}

renderTermLegend();
renderTable();
renderNetwork();
renderTree();
renderHeatmap();
renderVolcano();
</script>
</body>
</html>
